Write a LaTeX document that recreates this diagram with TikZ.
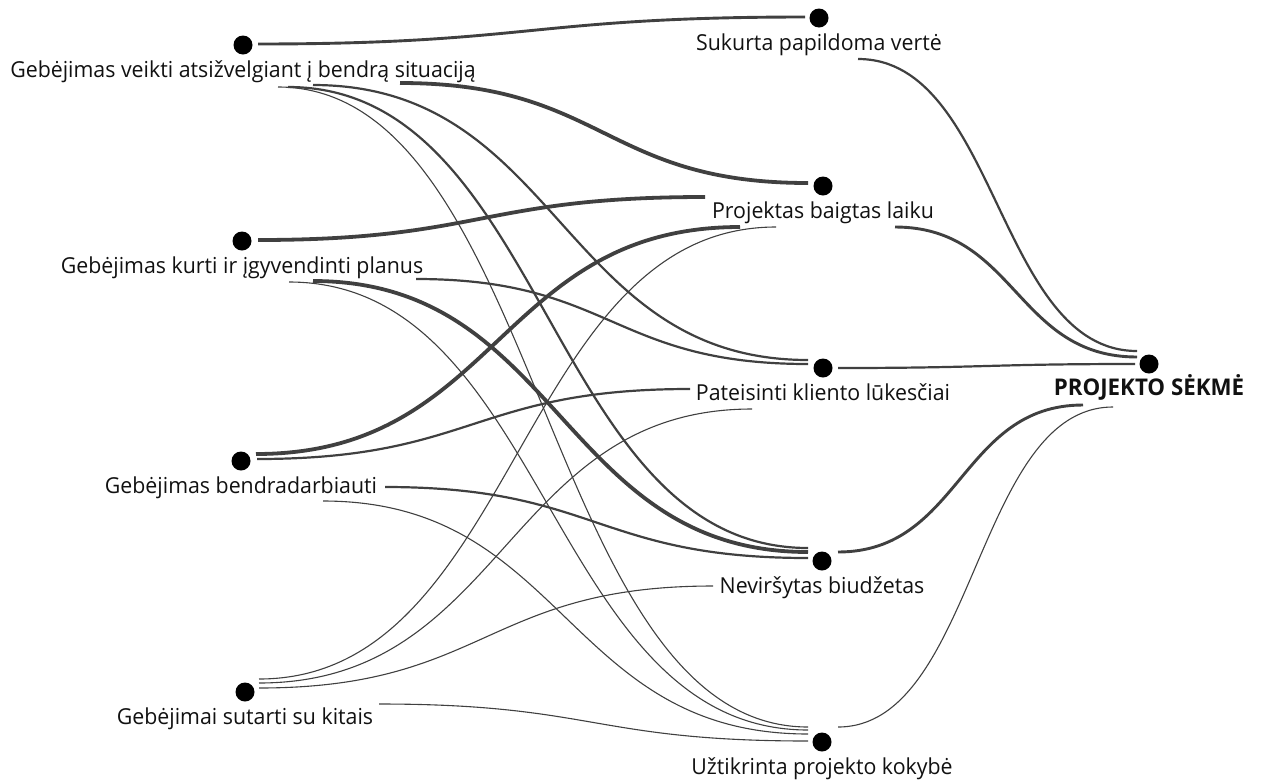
\documentclass[tikz,border=0pt]{standalone}
\usepackage{fontspec}
\setmainfont{Open Sans}[FakeStretch=0.97]
\usetikzlibrary{calc}
\definecolor{linkgray}{HTML}{404040}
\definecolor{inkblack}{HTML}{111111}
\begin{document}
\begin{tikzpicture}[x=1pt,y=-1pt,
  link/.style={draw=linkgray,line cap=butt,
    to path={let \p1=(\tikztostart), \p2=(\tikztotarget) in
      .. controls ({(\x1+\x2)/2},\y1) and ({(\x1+\x2)/2},\y2) .. (\tikztotarget)}},
  wa/.style={link,line width=1.1pt},
  wb/.style={link,line width=2.2pt},
  wc/.style={link,line width=2.9pt},
  wd/.style={link,line width=3.8pt},
  dot/.style={circle,fill=black,minimum size=19pt,inner sep=0pt},
  lbl/.style={anchor=base,inner sep=0pt,text=inkblack,font=\fontsize{22}{26}\selectfont},
  lblb/.style={lbl,font=\fontsize{23}{26}\selectfont\bfseries}]
\useasboundingbox (0,0) rectangle (1261,780);

% ---- nodes ----
\node[dot] (L1) at (243,45) {};
\node[dot] (L2) at (242,241) {};
\node[dot] (L3) at (241,461) {};
\node[dot] (L4) at (245,692) {};
\node[dot] (M1) at (819,18) {};
\node[dot] (M2) at (823,186) {};
\node[dot] (M3) at (823,368) {};
\node[dot] (M4) at (822,561) {};
\node[dot] (M5) at (822,742) {};
\node[dot] (R)  at (1149,364) {};

\node[lbl] (L1t) at (243,77) {Gebėjimas veikti atsižvelgiant į bendrą situaciją};
\node[lbl] (L2t) at (242,273) {Gebėjimas kurti ir įgyvendinti planus};
\node[lbl] (L3t) at (241,493) {Gebėjimas bendradarbiauti};
\node[lbl] (L4t) at (245,724) {Gebėjimai sutarti su kitais};
\node[lbl] (M1t) at (819,50) {Sukurta papildoma vertė};
\node[lbl] (M2t) at (823,218) {Projektas baigtas laiku};
\node[lbl] (M3t) at (823,400) {Pateisinti kliento lūkesčiai};
\node[lbl] (M4t) at (822,593) {Neviršytas biudžetas};
\node[lbl] (M5t) at (822,774) {Užtikrinta projekto kokybė};
\node[lblb] (Rt) at (1149,395) {PROJEKTO SĖKMĖ};

% ---- link ends ----
\coordinate (L1a) at (258,44);  \coordinate (L1b) at (400,83);
\coordinate (L1c) at (313,85);  \coordinate (L1d) at (288,87);
\coordinate (L1e) at (278,87);
\coordinate (L2a) at (258,240); \coordinate (L2b) at (416,279);
\coordinate (L2c) at (313,281); \coordinate (L2d) at (289,282);
\coordinate (L3a) at (256,454); \coordinate (L3b) at (257,459);
\coordinate (L3c) at (385,487); \coordinate (L3d) at (323,501);
\coordinate (L4a) at (259,679); \coordinate (L4b) at (259,683);
\coordinate (L4c) at (259,688); \coordinate (L4d) at (379,704);

\coordinate (M1in) at (805,17);
\coordinate (M2in1) at (808,183); \coordinate (M2in2) at (705,197);
\coordinate (M2in3) at (740,227); \coordinate (M2in4) at (776,227);
\coordinate (M3in1) at (808,360); \coordinate (M3in2) at (808,364);
\coordinate (M3in3) at (690,389); \coordinate (M3in4) at (752,409);
\coordinate (M4in1) at (808,548); \coordinate (M4in2) at (808,552);
\coordinate (M4in3) at (808,558); \coordinate (M4in4) at (713,586);
\coordinate (M5in1) at (808,727); \coordinate (M5in2) at (808,730);
\coordinate (M5in3) at (808,734); \coordinate (M5in4) at (808,741);

\coordinate (M1out) at (858,59);  \coordinate (M2out) at (895,227);
\coordinate (M3out) at (838,368); \coordinate (M4out) at (838,552);
\coordinate (M5out) at (838,727);
\coordinate (Rin1) at (1137,351); \coordinate (Rin2) at (1137,357);
\coordinate (Rin3) at (1135,364); \coordinate (Rin4) at (1083,405);
\coordinate (Rin5) at (1113,407);

% ---- links: skills to outcomes ----
\draw[wc] (L1a) to (M1in);
\draw[wd] (L1b) to (M2in1);
\draw[wb] (L1c) to (M3in1);
\draw[wb] (L1d) to (M4in1);
\draw[wa] (L1e) to (M5in1);

\draw[wd] (L2a) to (M2in2);
\draw[wb] (L2b) to (M3in2);
\draw[wd] (L2c) to (M4in2);
\draw[wa] (L2d) to (M5in2);

\draw[wd] (L3a) to (M2in3);
\draw[wb] (L3b) to (M3in3);
\draw[wb] (L3c) to (M4in3);
\draw[wa] (L3d) to (M5in3);

\draw[wa] (L4a) to (M2in4);
\draw[wa] (L4b) to (M3in4);
\draw[wa] (L4c) to (M4in4);
\draw[wa] (L4d) to (M5in4);

% ---- links: outcomes to success ----
\draw[wb] (M1out) to (Rin1);
\draw[wc] (M2out) to (Rin2);
\draw[wb] (M3out) to (Rin3);
\draw[wc] (M4out) to (Rin4);
\draw[wa] (M5out) to (Rin5);
\end{tikzpicture}
\end{document}
